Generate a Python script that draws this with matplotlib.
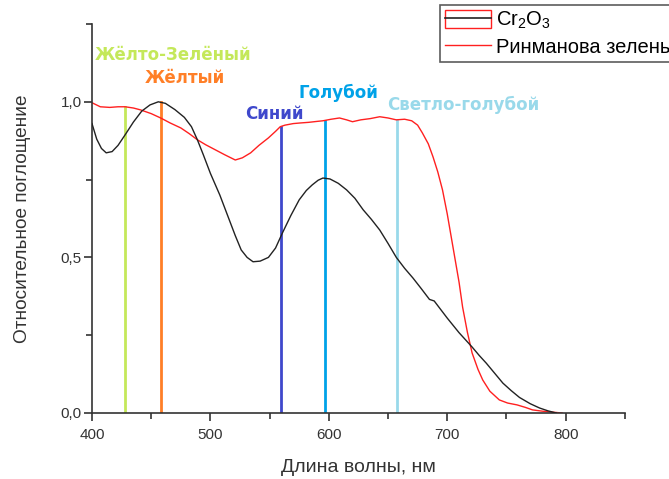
import matplotlib.pyplot as plt
from matplotlib.patches import Rectangle
from matplotlib.lines import Line2D
from matplotlib.legend_handler import HandlerTuple
from matplotlib.ticker import MultipleLocator, FuncFormatter

plt.rcParams['font.family'] = ['Liberation Sans', 'DejaVu Sans']
plt.rcParams['mathtext.fontset'] = 'custom'
plt.rcParams['mathtext.rm'] = 'Liberation Sans'

# Cr2O3 spectrum
cr_x = [400, 404, 408, 412, 417, 422, 428, 435, 442, 449, 456, 462, 470, 478,
        484, 489, 494, 500, 508, 515, 521, 526, 531, 536, 542, 549, 555, 561,
        568, 575, 581, 586, 591, 595, 601, 608, 615, 622, 629, 636, 643, 650,
        657, 664, 671, 678, 685, 689, 695, 700, 710, 721, 727, 733, 740, 747,
        754, 761, 770, 778, 785, 792]
cr_y = [0.93, 0.88, 0.85, 0.836, 0.84, 0.86, 0.894, 0.935, 0.97, 0.99, 1.0,
        0.995, 0.975, 0.95, 0.92, 0.878, 0.83, 0.77, 0.70, 0.63, 0.57, 0.524,
        0.50, 0.486, 0.488, 0.50, 0.53, 0.58, 0.635, 0.685, 0.715, 0.733,
        0.748, 0.755, 0.752, 0.738, 0.717, 0.69, 0.653, 0.622, 0.588, 0.545,
        0.50, 0.465, 0.434, 0.40, 0.365, 0.36, 0.33, 0.305, 0.258, 0.212,
        0.185, 0.16, 0.128, 0.096, 0.072, 0.05, 0.03, 0.016, 0.007, 0.0]

# Rinman's green spectrum
rin_x = [400, 407, 415, 422, 428, 435, 441, 450, 458, 466, 475, 482, 489,
         496, 504, 512, 521, 527, 534, 541, 549, 555, 559, 563, 570, 576,
         583, 590, 595, 602, 609, 615, 620, 627, 635, 643, 650, 657, 664,
         670, 675, 679, 684, 688, 692, 696, 700, 705, 710, 713, 717, 721,
         726, 730, 736, 744, 751, 759, 766, 772, 780, 788, 797]
rin_y = [0.997, 0.984, 0.982, 0.984, 0.984, 0.98, 0.974, 0.962, 0.948, 0.932,
         0.916, 0.898, 0.878, 0.862, 0.846, 0.83, 0.813, 0.82, 0.836, 0.86,
         0.884, 0.905, 0.92, 0.925, 0.93, 0.932, 0.934, 0.937, 0.939, 0.944,
         0.948, 0.942, 0.936, 0.942, 0.946, 0.952, 0.948, 0.942, 0.944,
         0.939, 0.925, 0.90, 0.865, 0.823, 0.775, 0.717, 0.64, 0.53, 0.42,
         0.34, 0.26, 0.193, 0.14, 0.106, 0.07, 0.042, 0.032, 0.026, 0.018,
         0.01, 0.006, 0.003, 0.0]

# colour markers: wavelength, top of line, label, label position
band_x = [428, 458, 560, 597, 658]
band_top = [0.984, 1.0, 0.92, 0.939, 0.942]
band_names = ['Жёлто-Зелёный', 'Жёлтый', 'Синий', 'Голубой', 'Светло-голубой']
band_colors = ['#c4e85a', '#ff7f27', '#3f48cc', '#00a2e8', '#99d9ea']
label_x = [402.5, 444.5, 529, 574, 649]
label_y = [1.151, 1.078, 0.962, 1.029, 0.991]

fig = plt.figure(figsize=(6.69, 4.79), dpi=100)
ax = fig.add_axes([0.1375, 0.1378, 0.7965, 0.8121])

for x, top, c in zip(band_x, band_top, band_colors):
    ax.plot([x, x], [0, top], color=c, lw=2, zorder=1)

ax.plot(cr_x, cr_y, color='#222222', lw=1, zorder=3)
ax.plot(rin_x, rin_y, color='#ff2020', lw=1, zorder=2)

for name, x, y, c in zip(band_names, label_x, label_y, band_colors):
    ax.text(x, y, name, color=c, fontsize=12, fontweight='bold',
            family=['DejaVu Sans'], va='center', ha='left')

ax.set_xlim(400, 850)
ax.set_ylim(0, 1.25)
for s in ['top', 'right']:
    ax.spines[s].set_visible(False)
for s in ['left', 'bottom']:
    ax.spines[s].set_color('#333333')
    ax.spines[s].set_linewidth(1.2)

ax.xaxis.set_major_locator(MultipleLocator(100))
ax.xaxis.set_minor_locator(MultipleLocator(50))
ax.yaxis.set_major_locator(MultipleLocator(0.5))
ax.yaxis.set_minor_locator(MultipleLocator(0.25))
ax.yaxis.set_major_formatter(FuncFormatter(lambda v, p: f'{v:.1f}'.replace('.', ',')))
ax.tick_params(which='major', direction='out', length=6, width=1.2,
               color='#333333', labelsize=11, labelcolor='#333333')
ax.tick_params(which='minor', direction='out', length=4, width=1.2,
               color='#333333')
ax.tick_params(axis='x', pad=5)
ax.tick_params(axis='y', pad=1.5)

ax.set_xlabel('Длина волны, нм', fontsize=14, color='#333333', labelpad=12)
ax.set_ylabel('Относительное поглощение', fontsize=13.7, color='#333333',
              labelpad=21)

h1 = (Rectangle((0, 0), 1, 1, facecolor='none', edgecolor='#ff2020', lw=1),
      Line2D([], [], color='#222222', lw=1.2))
h2 = Line2D([], [], color='#ff2020', lw=1)
leg = fig.legend([h1, h2], [r'Cr$_\mathregular{2}$O$_\mathregular{3}$', 'Ринманова зелень'],
                 handler_map={tuple: HandlerTuple(ndivide=1)},
                 loc='upper left', bbox_to_anchor=(0.657, 0.99),
                 fontsize=14.5, frameon=True, fancybox=False,
                 handlelength=2.3, handleheight=1.0, handletextpad=0.25,
                 borderpad=0.25, labelspacing=0.3, borderaxespad=0)
leg.get_frame().set_edgecolor('#333333')
leg.get_frame().set_linewidth(1.2)

fig.savefig('out.png', dpi=100)
